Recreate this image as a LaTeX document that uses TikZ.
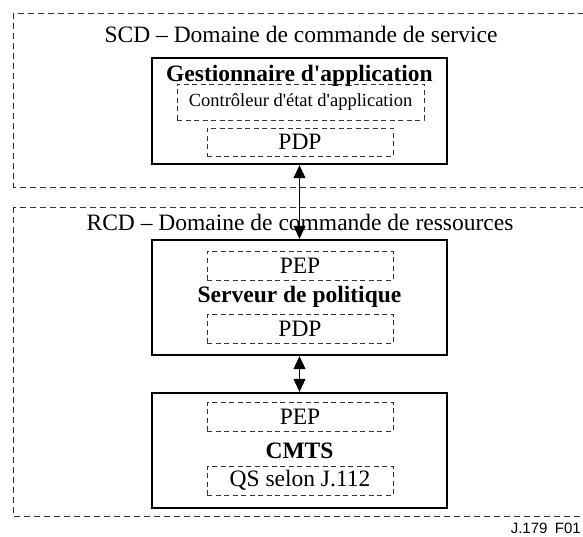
\documentclass[tikz,border=0pt]{standalone}
\usepackage{fontspec}
\setmainfont{Liberation Serif}
\newfontfamily\figsans{Liberation Sans}
\usetikzlibrary{arrows.meta}

\tikzset{
  domainbox/.style={draw=black!80, line width=0.9pt, dash pattern=on 6pt off 4pt},
  unitbox/.style={draw=black, line width=2.4pt, minimum width=295pt, inner sep=0pt},
  partbox/.style={draw=black!80, line width=0.9pt, dash pattern=on 5pt off 3.5pt,
                  inner sep=0pt, font=\fontsize{23.5}{26}\selectfont},
  domainlabel/.style={font=\fontsize{23.5}{26}\selectfont, inner sep=0pt},
  unitlabel/.style={font=\fontsize{23.5}{26}\selectfont\bfseries, inner sep=0pt},
  link/.style={line width=1pt, {Triangle[width=12pt,length=13pt]}-{Triangle[width=12pt,length=13pt]}},
}
\newcommand{\apos}{\textquotesingle}

\begin{document}
\begin{tikzpicture}[x=1pt, y=-1pt]
  \useasboundingbox (0,0) rectangle (583,537);
  \fill[white] (0,0) rectangle (583,537);
  \clip (0,0) rectangle (583,537);

  % service control domain and resource control domain (open to the right)
  \draw[domainbox] (13.5,13.5) rectangle (600,187);
  \draw[domainbox] (13.5,207) rectangle (600,516.5);
  \node[domainlabel] (scd) at (301,34) {SCD -- Domaine de commande de service};
  \node[domainlabel] (rcd) at (300,222) {RCD -- Domaine de commande de ressources};

  % application manager
  \node[unitbox, minimum height=106pt] (am) at (299.5,111) {};
  \node[unitlabel] (amt) at (299.5,75.5) {Gestionnaire d\apos application};
  \node[partbox, minimum width=247pt, minimum height=36pt,
        font=\fontsize{18.5}{22}\selectfont] (asc) at (300.5,102)
        {Contrôleur d\apos état d\apos application};
  \node[partbox, minimum width=186pt, minimum height=28pt] (pdp1) at (300,142) {PDP};

  % policy server
  \node[unitbox, minimum height=115pt] (ps) at (299.5,297.5) {};
  \node[partbox, minimum width=186pt, minimum height=29pt] (pep1) at (300,265.5) {PEP};
  \node[unitlabel] (pst) at (299.5,297) {Serveur de politique};
  \node[partbox, minimum width=186pt, minimum height=29pt] (pdp2) at (300,328.5) {PDP};

  % CMTS
  \node[unitbox, minimum height=115pt] (cmts) at (299.5,450.5) {};
  \node[partbox, minimum width=186pt, minimum height=29pt] (pep2) at (300,416.5) {PEP};
  \node[unitlabel] (cmtst) at (299.5,451) {CMTS};
  \node[partbox, minimum width=186pt, minimum height=29pt] (qos) at (300,480.5) {QS selon J.112};

  % interfaces
  \draw[link] (am.south) -- (ps.north);
  \draw[link] (ps.south) -- (cmts.north);

  % figure reference
  \node[anchor=base east, inner sep=0pt, font=\figsans\fontsize{15}{17}\selectfont]
       (ref) at (581,533) {J.179\enspace F01};
\end{tikzpicture}
\end{document}
